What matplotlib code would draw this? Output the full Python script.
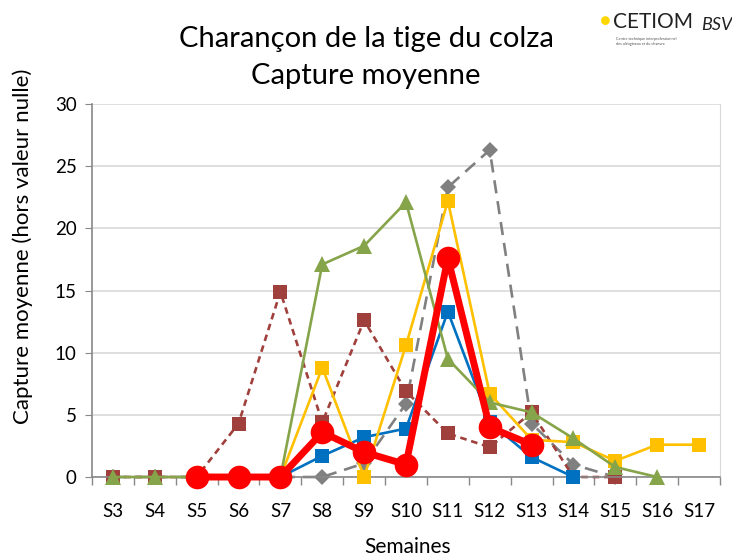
import numpy as np
import matplotlib
matplotlib.use("Agg")
import matplotlib.pyplot as plt

plt.rcParams["font.family"] = ["Lato", "DejaVu Sans"]

weeks = ["S3", "S4", "S5", "S6", "S7", "S8", "S9", "S10",
         "S11", "S12", "S13", "S14", "S15", "S16", "S17"]

# one list per series, None = no value that week
blue = [None, None, 0, 0, 0, 1.7, 3.2, 3.9, 13.3, 4.4, 1.6, 0, None, None, None]
brown = [0, 0, 0, 4.3, 14.9, 4.4, 12.6, 6.9, 3.5, 2.4, 5.2, 0, 0, None, None]
grey = [0, 0, 0, 0, 0, 0, 1.1, 5.9, 23.3, 26.3, 4.3, 1.0, 0, None, None]
yellow = [None, None, 0, 0, 0, 8.8, 0, 10.6, 22.2, 6.7, 3.0, 2.8, 1.3, 2.6, 2.6]
green = [0, 0, 0, 0, 0, 17.1, 18.6, 22.1, 9.5, 6.0, 5.2, 3.1, 0.8, 0, None]
red = [None, None, 0, 0, 0, 3.6, 2.0, 1.0, 17.6, 4.0, 2.6, None, None, None, None]


def arr(v):
    return np.array([np.nan if x is None else x for x in v], dtype=float)


x = np.arange(len(weeks))

fig = plt.figure(figsize=(7.32, 5.57), dpi=100)
ax = fig.add_axes([0.1257, 0.1436, 0.8579, 0.6697])

kw = dict(clip_on=False, mew=0)
ax.plot(x, arr(grey), color="#808080", lw=1.9, ls=(0, (5, 3)),
        marker="D", ms=8, zorder=2, **kw)
ax.plot(x, arr(brown), color="#A0403C", lw=1.9, ls=(0, (2.5, 1.8)),
        marker="s", ms=10.5, zorder=2.5, **kw)
ax.plot(x, arr(blue), color="#0070C0", lw=1.9, marker="s", ms=10.5,
        zorder=3, **kw)
ax.plot(x, arr(yellow), color="#FFC000", lw=1.9, marker="s", ms=10.5,
        zorder=5, **kw)
ax.plot(x, arr(green), color="#86A44A", lw=1.9, marker="^", ms=12,
        zorder=6, **kw)
ax.plot(x, arr(red), color="#FF0000", lw=5, marker="o", ms=17,
        zorder=7, **kw)

ax.set_xlim(-0.5, len(weeks) - 0.5)
ax.set_ylim(0, 30)
ax.set_yticks(range(0, 31, 5))
ax.set_xticks(x)
ax.set_xticklabels(weeks)
ax.set_xticks(np.arange(-0.5, len(weeks)), minor=True)
ax.tick_params(axis="x", which="major", length=0, pad=19, labelsize=13.5)
ax.tick_params(axis="x", which="minor", length=6, color="#888888", width=1)
ax.tick_params(axis="y", length=5, color="#888888", labelsize=13.5, pad=6)

ax.grid(axis="y", color="#D9D9D9", lw=1.2, zorder=0)
ax.set_axisbelow(True)
ax.spines["top"].set_visible(False)
ax.spines["right"].set_color("#D9D9D9")
ax.spines["left"].set_color("#888888")
ax.spines["bottom"].set_color("#888888")
ax.spines["left"].set_linewidth(1.2)
ax.spines["bottom"].set_linewidth(1.2)

ax.set_xlabel("Semaines", fontsize=15)
ax.xaxis.set_label_coords(0.503, -0.160)
ax.set_ylabel("Capture moyenne (hors valeur nulle)", fontsize=16)
ax.yaxis.set_label_coords(-0.094, 0.619)

fig.text(0.50, 0.930, "Charançon de la tige du colza", ha="center",
         va="center", fontsize=21)
fig.text(0.50, 0.864, "Capture moyenne", ha="center", va="center",
         fontsize=21)

# logos, as text
fig.text(0.827, 0.963, "●", color="#FFD700", fontsize=13, ha="center",
         va="center")
fig.text(0.837, 0.960, "CETIOM", fontsize=15, ha="left", va="center",
         color="#222222", fontstretch="condensed")
fig.text(0.842, 0.925, "Centre technique interprofessionnel\ndes oléagineux et du chanvre",
         fontsize=2.8, ha="left", va="center", color="#555555")
fig.text(0.958, 0.955, "BSV", fontsize=13, ha="left", va="center",
         style="italic", color="#222222")

fig.savefig("out.png", dpi=100)
